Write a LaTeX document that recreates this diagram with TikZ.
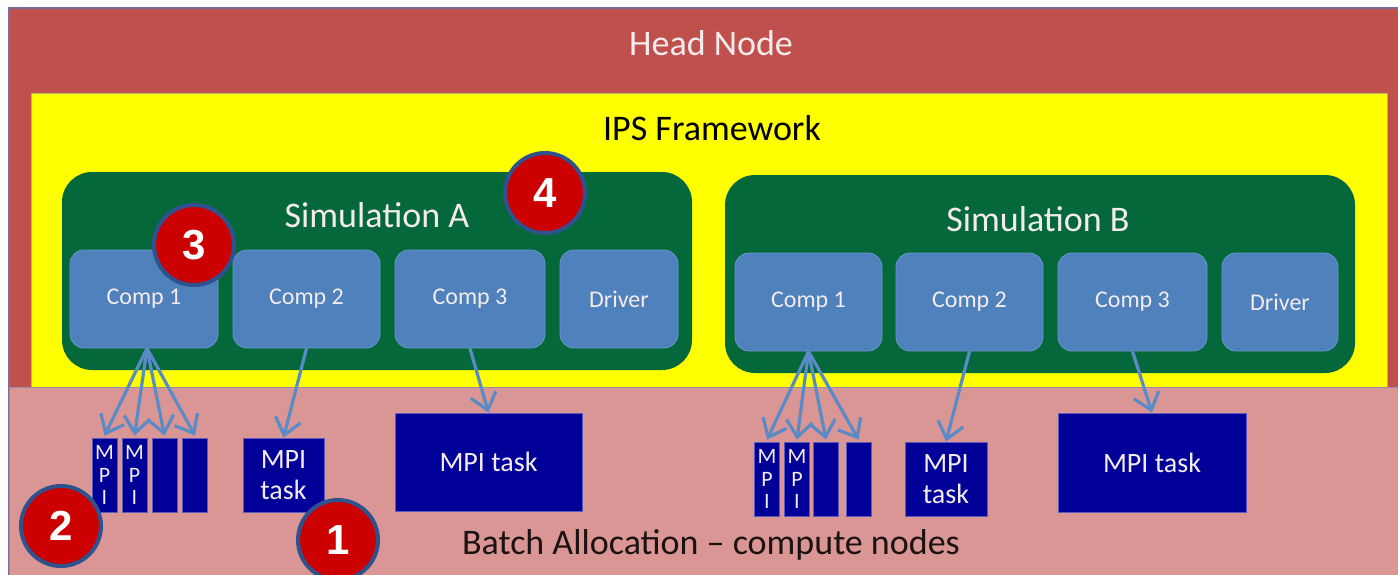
\documentclass[tikz,border=0pt]{standalone}
\usepackage{fontspec}
\setmainfont{Carlito}
\newfontfamily\numfont{Liberation Sans}
\usetikzlibrary{arrows.meta}

\definecolor{headred}{HTML}{C0504D}
\definecolor{headedge}{HTML}{7E6C9C}
\definecolor{fwyellow}{HTML}{FFFF00}
\definecolor{fwedge}{HTML}{B8B860}
\definecolor{batchpink}{HTML}{D99694}
\definecolor{batchedge}{HTML}{9A8AA8}
\definecolor{simgreen}{HTML}{05683A}
\definecolor{compblue}{HTML}{4F81BD}
\definecolor{compedge}{HTML}{6A96CC}
\definecolor{taskblue}{HTML}{000099}
\definecolor{taskedge}{HTML}{5A5AC0}
\definecolor{flowblue}{HTML}{5B8BC6}
\definecolor{badgered}{HTML}{CC0000}
\definecolor{badgering}{HTML}{2F528F}
\definecolor{lighttext}{HTML}{F4ECEC}
\definecolor{darktext}{HTML}{1C1212}

\tikzset{
  region/.style={rectangle, inner sep=0pt},
  title/.style={inner sep=0pt, font=\fontsize{36}{40}\selectfont},
  simbox/.style={rectangle, fill=simgreen, rounded corners=30pt,
    minimum width=630pt, minimum height=198pt, inner sep=0pt},
  compbox/.style={rectangle, fill=compblue, draw=compedge, line width=0.8pt,
    rounded corners=14pt, minimum height=98pt, inner sep=0pt,
    text=lighttext, font=\fontsize{24}{28}\selectfont},
  taskbox/.style={rectangle, fill=taskblue, draw=taskedge, line width=0.8pt,
    inner sep=0pt, align=center, text=lighttext,
    font=\fontsize{28}{31}\selectfont},
  narrowtask/.style={taskbox, minimum width=25pt, minimum height=74pt,
    font=\fontsize{22}{22.5}\selectfont},
  flow/.style={draw=flowblue, line width=3.2pt,
    -{Straight Barb[length=16pt,width=26pt]}},
  badge/.style={circle, fill=badgered, draw=badgering, line width=4pt,
    minimum size=80pt, inner sep=0pt, text=white,
    font=\numfont\bfseries\fontsize{42}{42}\selectfont}
}

\begin{document}
\begin{tikzpicture}[x=1pt,y=-1pt]
\useasboundingbox (0,0) rectangle (1398,574);
\clip (0,0) rectangle (1398,574);

% head node, framework and batch allocation (right and bottom run off the page)
\node[region, fill=headred, draw=headedge, line width=1.5pt,
  minimum width=1400pt, minimum height=580pt] (head) at (709,298) {};
\node[region, fill=fwyellow, draw=fwedge, line width=0.8pt,
  minimum width=1356pt, minimum height=294pt] (fw) at (709,240) {};
\node[region, fill=batchpink, draw=batchedge, line width=0.8pt,
  minimum width=1400pt, minimum height=200pt] (batch) at (709,487) {};

\node[title, text=lighttext] (headlbl) at (711,43) {Head Node};
\node[title, text=black] (fwlbl) at (712,128) {IPS Framework};
\node[title, text=darktext] (batchlbl) at (711,545) {Batch Allocation – compute nodes};

% simulations
\node[simbox] (simA) at (377,271) {};
\node[simbox] (simB) at (1040,274) {};
\node[title, text=lighttext] (simAlbl) at (377,215) {Simulation A};
\node[title, text=lighttext] (simBlbl) at (1038,219) {Simulation B};

% components of simulation A
\node[compbox, minimum width=148pt] (a1) at (144,299) {Comp 1};
\node[compbox, minimum width=147pt] (a2) at (306.5,299) {Comp 2};
\node[compbox, minimum width=150pt] (a3) at (470,299) {Comp 3};
\node[compbox, minimum width=118pt] (a4) at (619,299) {Driver};

% components of simulation B
\node[compbox, minimum width=147pt] (b1) at (808.5,302) {Comp 1};
\node[compbox, minimum width=147pt] (b2) at (969.5,302) {Comp 2};
\node[compbox, minimum width=149pt] (b3) at (1132.5,302) {Comp 3};
\node[compbox, minimum width=116pt] (b4) at (1280,302) {Driver};

% MPI tasks of simulation A
\node[narrowtask] (ma1) at (104.5,475) {M\\P\\I};
\node[narrowtask] (ma2) at (134.5,475) {M\\P\\I};
\node[narrowtask] (ma3) at (164.5,475) {};
\node[narrowtask] (ma4) at (195,475) {};
\node[taskbox, minimum width=81pt, minimum height=74pt] (ta2) at (283.5,475) {MPI\\task};
\node[taskbox, minimum width=187pt, minimum height=98pt] (ta3) at (488.5,462) {MPI task};

% MPI tasks of simulation B
\node[narrowtask] (mb1) at (767,479) {M\\P\\I};
\node[narrowtask] (mb2) at (797,479) {M\\P\\I};
\node[narrowtask] (mb3) at (826,479) {};
\node[narrowtask] (mb4) at (858.5,479) {};
\node[taskbox, minimum width=82pt, minimum height=74pt] (tb2) at (946,479) {MPI\\task};
\node[taskbox, minimum width=188pt, minimum height=99pt] (tb3) at (1152,462.5) {MPI task};

% launches
\coordinate (fanA) at ([xshift=3pt]a1.south);
\coordinate (fanB) at (b1.south);
\foreach \t in {ma1,ma2,ma3,ma4} \draw[flow] (fanA) -- ([yshift=2pt]\t.north);
\foreach \t in {mb1,mb2,mb3,mb4} \draw[flow] (fanB) -- ([yshift=2pt]\t.north);
\draw[flow] (a2.south) -- (ta2.north);
\draw[flow] (a3.south) -- (ta3.north);
\draw[flow] (b2.south) -- (tb2.north);
\draw[flow] (b3.south) -- (tb3.north);

% numbered markers
\node[badge] (n4) at (545,193) {4};
\node[badge] (n3) at (194,245) {3};
\node[badge] (n2) at (61,526) {2};
\node[badge] (n1) at (338,540) {1};
\end{tikzpicture}
\end{document}
